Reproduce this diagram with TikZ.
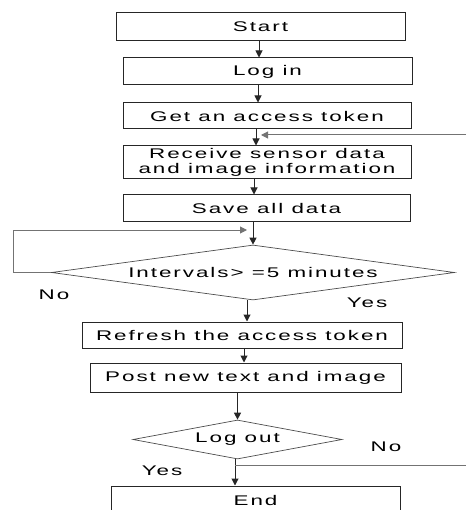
\documentclass[tikz,border=0pt]{standalone}
\usepackage{fontspec}
\setmainfont[FakeStretch=1.6,LetterSpace=14]{Liberation Sans}
\usetikzlibrary{arrows.meta,shapes.geometric}
\tikzset{
    block/.style = {draw=black!85, line width=1pt, rectangle, inner sep=0pt,
        font=\fontsize{14}{15.5}\selectfont},
    decision/.style = {draw=black!70, line width=.7pt, diamond, inner sep=0pt,
        font=\fontsize{14}{15.5}\selectfont},
    arrow/.style = {draw=black!85, line width=1pt, -{Triangle[length=7pt,width=7pt]}},
    back/.style = {draw=black!55, line width=1pt},
    answer/.style = {font=\fontsize{14}{15.5}\selectfont}
}

\begin{document}
\begin{tikzpicture}[x=1pt,y=-1pt]
            \useasboundingbox (0,0) rectangle (466,510);
            \node[block, minimum width=289pt, minimum height=28pt] (start) at (260.5,27) {Start};
            \node[block, minimum width=289pt, minimum height=27pt] (login) at (267.5,71.5) {Log in};
            \node[block, minimum width=288pt, minimum height=26pt] (token) at (267,116) {Get an access token};
            \node[block, minimum width=288pt, minimum height=33pt, align=center] (receive) at (267,162.5) {Receive sensor data\\and image information};
            \node[block, minimum width=287pt, minimum height=27pt] (save) at (266.5,208.5) {Save all data};
            \node[decision, minimum width=403pt, minimum height=55pt, aspect=7.3] (interval) at (253,272.5) {Intervals> =5 minutes};
            \node[block, minimum width=320pt, minimum height=26pt] (refresh) at (242,335) {Refresh the access token};
            \node[block, minimum width=311pt, minimum height=29pt] (post) at (245.5,377.5) {Post new text and image};
            \node[decision, minimum width=209pt, minimum height=39pt, aspect=5.4] (logout) at (237.5,439.5) {Log out};
            \node[block, minimum width=289pt, minimum height=28pt] (end) at (255.5,500) {End};
            % x positions of the down arrows
            \coordinate (c1) at (259,0);
            \coordinate (c2) at (258,0);
            \coordinate (c3) at (256,0);
            \coordinate (c4) at (254,0);
            \coordinate (c6) at (247,0);
            \coordinate (c7) at (244,0);
            \coordinate (c9) at (235,0);
            \draw[arrow] (start.south -| c1) -- (login.north -| c1);
            \draw[arrow] (login.south -| c2) -- (token.north -| c2);
            \draw[arrow] (token.south -| c3) -- (receive.north -| c3);
            \draw[arrow] (receive.south -| c4) -- (save.north -| c4);
            \draw[arrow] (save.south -| interval.north) -- (interval.north);
            \draw[arrow] (interval.south -| c6) -- (refresh.north -| c6);
            \draw[arrow] (refresh.south -| c7) -- (post.north -| c7);
            \draw[arrow] (post.south -| logout.north) -- (logout.north);
            \draw[arrow] (logout.south -| c9) -- (end.north -| c9);
            % loops
            \coordinate (backin) at (466,135);
            \coordinate (joinA) at (256,135);
            \draw[back, arrow, draw=black!55, shorten >=5pt] (backin) -- (joinA);
            \coordinate (joinB) at (253,230);
            \draw[back, arrow, draw=black!55, shorten >=6pt] (interval.west) -- ++(-38,0) |- (joinB);
            \coordinate (noout) at (466,465);
            \draw[back] (noout -| c9) -- (noout);
            % answers
            \node[answer] (no1) at (54,295) {No};
            \node[answer] (yes1) at (367,303) {Yes};
            \node[answer] (no2) at (386,447) {No};
            \node[answer] (yes2) at (162,471) {Yes};
        \end{tikzpicture}
\end{document}
